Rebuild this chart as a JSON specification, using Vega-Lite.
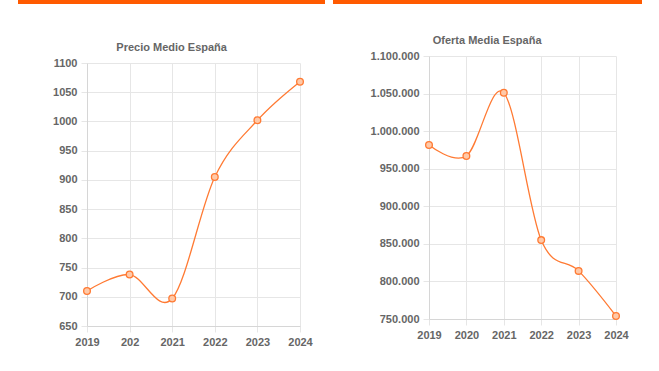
{
  "$schema": "https://vega.github.io/schema/vega-lite/v6.json",
  "padding": {"left": 18, "top": 0, "right": 0, "bottom": 0},
  "autosize": {"type": "pad"},
  "config": {
    "locale": {"number": {"decimal": ",", "thousands": ".", "grouping": [3], "currency": ["", " €"]}},
    "view": {"stroke": null},
    "font": "Liberation Sans",
    "axis": {
      "labelColor": "#666666",
      "labelFont": "Liberation Sans",
      "labelFontWeight": "bold",
      "labelFontSize": 11,
      "gridColor": "#e6e6e6",
      "tickColor": "#e6e6e6",
      "tickSize": 6,
      "domainColor": "#d6d6d6",
      "labelPadding": 4,
      "grid": true,
      "title": null
    },
    "title": {"fontSize": 11, "fontWeight": "bold", "color": "#666666", "font": "Liberation Sans", "offset": 4, "frame": "bounds", "dx": 6}
  },
  "datasets": {
    "precio": [
      {"year": "2019", "value": 710},
      {"year": "202", "value": 738},
      {"year": "2021", "value": 697},
      {"year": "2022", "value": 905},
      {"year": "2023", "value": 1002},
      {"year": "2024", "value": 1068}
    ],
    "oferta": [
      {"year": "2019", "value": 981500},
      {"year": "2020", "value": 967000},
      {"year": "2021", "value": 1051000},
      {"year": "2022", "value": 855000},
      {"year": "2023", "value": 814000},
      {"year": "2024", "value": 754000}
    ],
    "banner": [{"start": 0, "end": 1}],
    "empty": []
  },
  "spacing": 8,
  "hconcat": [
    {
      "vconcat": [
        {
          "data": {"name": "banner"},
          "width": 307,
          "height": 4,
          "mark": {"type": "rect", "color": "#FF5A00"},
          "encoding": {
            "x": {"field": "start", "type": "quantitative", "scale": {"domain": [0, 1]}, "axis": null},
            "x2": {"field": "end"}
          }
        },
        {
          "spacing": 0,
          "hconcat": [
            {"width": 1, "height": 1, "data": {"name": "empty"}, "mark": "point", "encoding": {}},
            {
              "width": 213,
              "height": 263,
              "title": {"text": "Precio Medio España"},
              "data": {"name": "precio"},
              "encoding": {
                "x": {"field": "year", "type": "ordinal", "sort": null, "scale": {"type": "point", "padding": 0}, "axis": {"labelAngle": 0}},
                "y": {"field": "value", "type": "quantitative", "scale": {"domain": [650, 1100], "nice": false, "zero": false}, "axis": {"values": [650, 700, 750, 800, 850, 900, 950, 1000, 1050, 1100], "format": "d", "minExtent": 68}}
              },
              "layer": [
                {"mark": {"type": "line", "interpolate": "cardinal", "color": "#FF7A33", "strokeWidth": 1.3}},
                {"mark": {"type": "point", "shape": "circle", "filled": true, "fill": "#FFC9A8", "stroke": "#FF7A33", "strokeWidth": 1.3, "size": 45, "opacity": 1}}
              ]
            }
          ]
        }
      ],
      "spacing": 38
    },
    {
      "vconcat": [
        {
          "data": {"name": "banner"},
          "width": 309,
          "height": 4,
          "mark": {"type": "rect", "color": "#FF5A00"},
          "encoding": {
            "x": {"field": "start", "type": "quantitative", "scale": {"domain": [0, 1]}, "axis": null},
            "x2": {"field": "end"}
          }
        },
        {
          "spacing": 0,
          "hconcat": [
            {"width": 1, "height": 1, "data": {"name": "empty"}, "mark": "point", "encoding": {}},
            {
              "width": 187,
              "height": 263,
              "title": {"text": "Oferta Media España"},
              "data": {"name": "oferta"},
              "encoding": {
                "x": {"field": "year", "type": "ordinal", "sort": null, "scale": {"type": "point", "padding": 0}, "axis": {"labelAngle": 0}},
                "y": {"field": "value", "type": "quantitative", "scale": {"domain": [750000, 1100000], "nice": false, "zero": false}, "axis": {"values": [750000, 800000, 850000, 900000, 950000, 1000000, 1050000, 1100000], "format": ",.0f", "minExtent": 95}}
              },
              "layer": [
                {"mark": {"type": "line", "interpolate": "cardinal", "color": "#FF7A33", "strokeWidth": 1.3}},
                {"mark": {"type": "point", "shape": "circle", "filled": true, "fill": "#FFC9A8", "stroke": "#FF7A33", "strokeWidth": 1.3, "size": 45, "opacity": 1}}
              ]
            }
          ]
        }
      ],
      "spacing": 31
    }
  ]
}
